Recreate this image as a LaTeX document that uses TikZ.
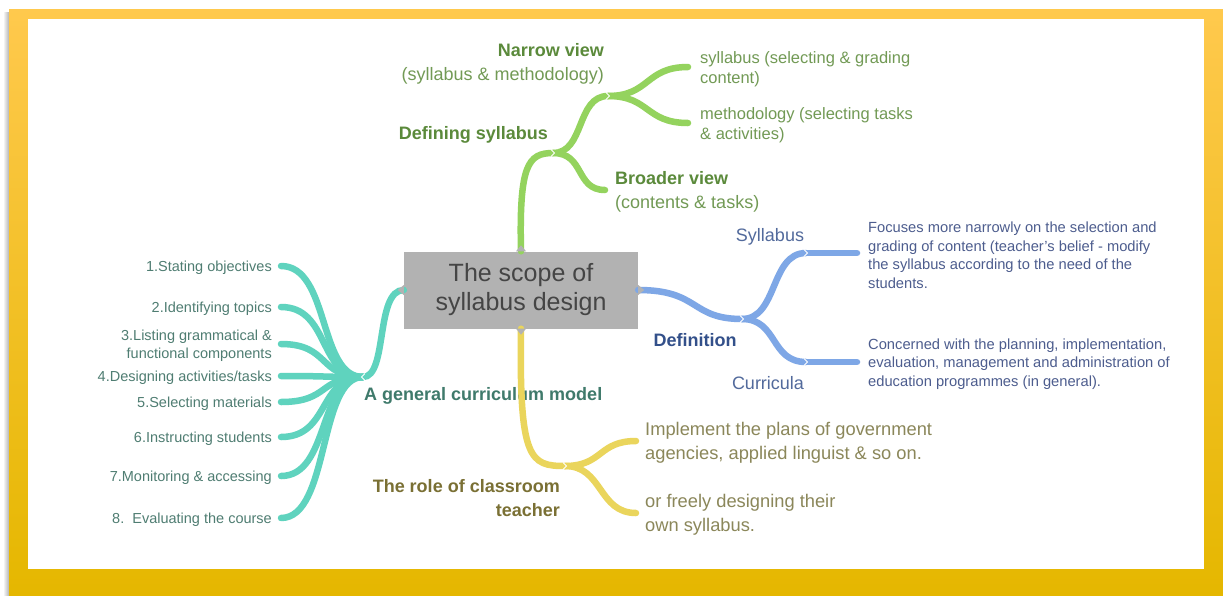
\documentclass[tikz,border=0pt]{standalone}
\usepackage{fontspec}
\setmainfont{Liberation Sans}
\usetikzlibrary{positioning}

\definecolor{frametop}{HTML}{FFC94D}
\definecolor{framebot}{HTML}{E5B700}
\definecolor{boxgray}{HTML}{B2B2B2}
\definecolor{boxtext}{HTML}{454545}
\definecolor{grline}{HTML}{94D35E}
\definecolor{grtext}{HTML}{729A55}
\definecolor{grbold}{HTML}{5B8A3B}
\definecolor{blline}{HTML}{7EA7E6}
\definecolor{bltext}{HTML}{4D5D8E}
\definecolor{blbold}{HTML}{33508A}
\definecolor{tlline}{HTML}{5FD3BE}
\definecolor{tltext}{HTML}{4F7D72}
\definecolor{tlbold}{HTML}{3F7A6B}
\definecolor{ylline}{HTML}{EAD55C}
\definecolor{yltext}{HTML}{8B875A}
\definecolor{ylbold}{HTML}{7A7034}

\begin{document}
\begin{tikzpicture}[
  x=1pt, y=-1pt,
  every node/.style={inner sep=0pt},
  twig/.style={line width=6.5pt, line cap=round},
  notch/.style={white, line width=0.9pt},
  central/.style={fill=boxgray, text=boxtext, minimum width=234pt, minimum height=77pt,
    align=center, font=\fontsize{25}{29}\selectfont},
  toplbl/.style={yshift=-2pt, font=\bfseries\fontsize{18}{23.5}\selectfont},
  sublbl/.style={yshift=-2pt, font=\fontsize{18}{24}\selectfont},
  gnote/.style={yshift=-2pt, text=grtext, align=left, font=\fontsize{16.5}{20}\selectfont},
  bnote/.style={yshift=-2pt, text=bltext, align=left, font=\fontsize{14.7}{18.5}\selectfont},
  tnote/.style={yshift=-2pt, text=tltext, align=right, font=\fontsize{14.5}{18}\selectfont},
  ynote/.style={yshift=-2pt, text=yltext, align=left, font=\fontsize{18.3}{24}\selectfont}
]

  % frame
  \useasboundingbox (0,0) rectangle (1223,595);
  \shade[left color=white, right color=black!30] (3,12) rectangle (9,595);
  \shade[top color=frametop, bottom color=framebot] (9,9) rectangle (1223,595);
  \fill[white] (28,19) rectangle (1204,569);

  % centre box
  \node[central] (scope) at (521,290) {The scope of\\syllabus design};

  % Defining syllabus
  \coordinate (dsyl) at (553,153);
  \coordinate (nview) at (608,96);
  \coordinate (nsyl-end) at (688,67);
  \coordinate (nmeth-end) at (688,123);
  \coordinate (bview-end) at (605,190);

  \draw[twig, grline] (scope.north) .. controls (519,165) and (528,153) .. (dsyl);
  \draw[twig, grline] (dsyl) .. controls (585,153) and (576,96) .. (nview);
  \draw[twig, grline] (nview) .. controls (650,96) and (645,67) .. (nsyl-end);
  \draw[twig, grline] (nview) .. controls (650,96) and (645,123) .. (nmeth-end);
  \draw[twig, grline] (dsyl) .. controls (585,153) and (575,190) .. (bview-end);

  \node[toplbl, text=grbold, anchor=east] (dsyl-lbl) at (548,133) {Defining syllabus};
  \node[sublbl, text=grtext, align=right, anchor=east] (nview-lbl) at (604,62)
    {\textbf{\color{grbold}Narrow view}\\(syllabus \& methodology)};
  \node[gnote, right=12pt of nsyl-end] (nsyl) {syllabus (selecting \& grading\\content)};
  \node[gnote, right=12pt of nmeth-end] (nmeth) {methodology (selecting tasks\\\& activities)};
  \node[sublbl, text=grtext, align=left, right=10pt of bview-end] (bview)
    {\textbf{\color{grbold}Broader view}\\(contents \& tasks)};

  % Definition
  \coordinate (defn) at (742,319);
  \coordinate (sylb) at (806,253);
  \coordinate (sylb-end) at (857,253);
  \coordinate (curr) at (806,362);
  \coordinate (curr-end) at (857,362);

  \draw[twig, blline] (scope.east) .. controls (700,290) and (690,319) .. (defn);
  \draw[twig, blline] (defn) .. controls (778,319) and (770,253) .. (sylb);
  \draw[twig, blline] (sylb) -- (sylb-end);
  \draw[twig, blline] (defn) .. controls (778,319) and (770,362) .. (curr);
  \draw[twig, blline] (curr) -- (curr-end);

  \node[toplbl, text=blbold] (defn-lbl) at (695,338) {Definition};
  \node[sublbl, text=blbold!85] (sylb-lbl) at (770,235) {Syllabus};
  \node[sublbl, text=blbold!85] (curr-lbl) at (768,381) {Curricula};
  \node[bnote, right=11pt of sylb-end] (sylb-txt)
    {Focuses more narrowly on the selection and\\grading of content (teacher's belief - modify\\the syllabus according to the need of the\\students.};
  \node[bnote, right=11pt of curr-end] (curr-txt)
    {Concerned with the planning, implementation,\\evaluation, management and administration of\\education programmes (in general).};

  % A general curriculum model
  \coordinate (model) at (363,377);
  \draw[twig, tlline] (scope.west) .. controls (375,290) and (388,377) .. (model);
  \foreach \y/\txt [count=\i] in {266/{1.Stating objectives}, 307/{2.Identifying topics},
      344/{3.Listing grammatical \&\\functional components}, 376/{4.Designing activities/tasks},
      402/{5.Selecting materials}, 437/{6.Instructing students},
      476/{7.Monitoring \& accessing}, 518/{8.\ \ Evaluating the course}} {
    \coordinate (item\i) at (281,\y);
    \draw[twig, tlline] (model) .. controls (318,377) and (330,\y) .. (item\i);
    \node[tnote, left=9pt of item\i] (itemtxt\i) {\txt};
  }
  \node[toplbl, text=tlbold, anchor=west] (model-lbl) at (364,394) {A general curriculum model};

  % The role of classroom teacher
  \coordinate (role) at (565,466);
  \coordinate (impl-end) at (636,441);
  \coordinate (free-end) at (636,513);

  \draw[twig, ylline] (scope.south) .. controls (519,460) and (530,466) .. (role);
  \draw[twig, ylline] (role) .. controls (603,466) and (598,441) .. (impl-end);
  \draw[twig, ylline] (role) .. controls (603,466) and (598,513) .. (free-end);

  \node[toplbl, text=ylbold, align=right, anchor=east] (role-lbl) at (560,496)
    {The role of classroom\\teacher};
  \node[ynote, right=9pt of impl-end] (impl) {Implement the plans of government\\agencies, applied linguist \& so on.};
  \node[ynote, right=9pt of free-end] (free) {or freely designing their\\own syllabus.};

  % small chevrons where branches meet
  \foreach \jn in {dsyl, nview, defn, sylb, curr, role}
    \draw[notch] ([shift={(-2pt,3.5pt)}]\jn) -- ([shift={(1.5pt,0pt)}]\jn) -- ([shift={(-2pt,-3.5pt)}]\jn);
  \draw[notch] ([shift={(2pt,3.5pt)}]model) -- ([shift={(-1.5pt,0pt)}]model) -- ([shift={(2pt,-3.5pt)}]model);

  % notches on the centre box
  \fill[boxgray] ([xshift=-5pt]scope.north) -- ([yshift=6pt]scope.north) -- ([xshift=5pt]scope.north) -- cycle;
  \fill[boxgray] ([xshift=-5pt]scope.south) -- ([yshift=-6pt]scope.south) -- ([xshift=5pt]scope.south) -- cycle;
  \fill[boxgray] ([yshift=5pt]scope.west) -- ([xshift=-6pt]scope.west) -- ([yshift=-5pt]scope.west) -- cycle;
  \fill[boxgray] ([yshift=5pt]scope.east) -- ([xshift=6pt]scope.east) -- ([yshift=-5pt]scope.east) -- cycle;

\end{tikzpicture}
\end{document}
